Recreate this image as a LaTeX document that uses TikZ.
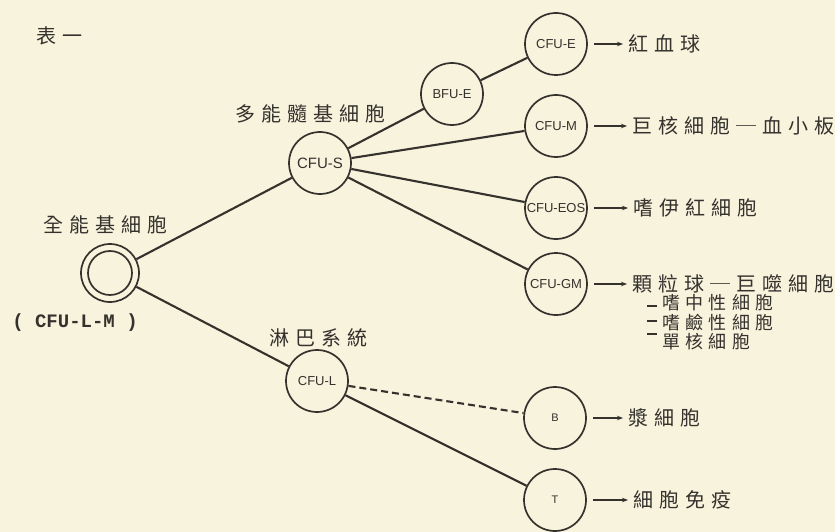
\documentclass[tikz,border=0pt]{standalone}
\usepackage{fontspec}
\usetikzlibrary{arrows.meta}
\newfontfamily\cjk[LetterSpace=30]{Noto Sans CJK TC}
\newfontfamily\cfufont{Liberation Sans}
\newfontfamily\codefont{Liberation Mono}
\definecolor{paper}{HTML}{F7F3DD}
\definecolor{ink}{HTML}{35322E}
\begin{document}
\begin{tikzpicture}[x=1pt,y=-1pt,
  cell/.style={circle,draw=ink,line width=1.7pt,minimum size=62pt,inner sep=0pt,text=ink,font=\cfufont\fontsize{13}{13}\selectfont},
  lab/.style={text=ink,font=\cjk\fontsize{20}{20}\selectfont,inner sep=0pt},
  sublab/.style={text=ink,font=\cjk\fontsize{18}{18}\selectfont,inner sep=0pt,anchor=west},
  edge/.style={draw=ink,line width=2.1pt},
  arr/.style={draw=ink,line width=1.2pt,-{Stealth[length=6pt,width=4.5pt]},shorten <=6pt,shorten >=5pt},
  tick/.style={draw=ink,line width=1.3pt}]
\fill[paper] (0,0) rectangle (835,532);
\useasboundingbox (0,0) rectangle (835,532);
% titles and group labels
\node[lab] (title) at (59,36) {表一};
\node[lab] (lmlab) at (105,225) {全能基細胞};
\node[lab] (slab) at (310,114) {多能髓基細胞};
\node[lab] (llab) at (318,338) {淋巴系統};
% stem cell (double circle)
\node[cell,minimum size=58pt] (lm) at (110,273) {};
\node[circle,draw=ink,line width=1.7pt,minimum size=44pt,inner sep=0pt] (lmin) at (110,273) {};
\node[text=ink,inner sep=0pt,font=\codefont\bfseries\fontsize{19}{19}\selectfont] (lmcode) at (75,323) {( CFU-L-M )};
% cells
\node[cell,font=\cfufont\fontsize{15}{15}\selectfont] (s) at (320,163) {CFU-S};
\node[cell] (bfue) at (452,94) {BFU-E};
\node[cell] (e) at (556,44) {CFU-E};
\node[cell] (m) at (556,126) {CFU-M};
\node[cell] (eos) at (556,208) {CFU-EOS};
\node[cell] (gm) at (556,284) {CFU-GM};
\node[cell] (l) at (317,381) {CFU-L};
\node[cell,font=\cfufont\fontsize{11}{11}\selectfont] (b) at (555,418) {B};
\node[cell,font=\cfufont\fontsize{11}{11}\selectfont] (t) at (555,500) {T};
% right labels
\node[lab,anchor=west] (le) at (628,44) {紅血球};
\node[lab,anchor=west] (lm2) at (632,126) {巨核細胞─血小板};
\node[lab,anchor=west] (leos) at (633,208) {嗜伊紅細胞};
\node[lab,anchor=west] (lgm) at (632,284) {顆粒球─巨噬細胞};
\node[sublab] (g1) at (662,303) {嗜中性細胞};
\node[sublab] (g2) at (662,323) {嗜鹼性細胞};
\node[sublab] (g3) at (662,342) {單核細胞};
\node[lab,anchor=west] (lb) at (628,418) {漿細胞};
\node[lab,anchor=west] (lt) at (633,500) {細胞免疫};
% tree ticks
\draw[tick] (647,306) -- (657,306);
\draw[tick] (647,321) -- (657,321);
\draw[tick] (647,334) -- (657,334);
% connectors
\draw[edge] (lm) -- (s);
\draw[edge] (lm) -- (l);
\draw[edge] (s) -- (bfue);
\draw[edge] (bfue) -- (e);
\draw[edge] (s) -- (m);
\draw[edge] (s) -- (eos);
\draw[edge] (s) -- (gm);
\draw[edge,dash pattern=on 7pt off 4pt] (l) -- (b);
\draw[edge] (l) -- (t);
% arrows
\draw[arr] (e) -- (le);
\draw[arr] (m) -- (lm2);
\draw[arr] (eos) -- (leos);
\draw[arr] (gm) -- (lgm);
\draw[arr] (b) -- (lb);
\draw[arr] (t) -- (lt);
\end{tikzpicture}
\end{document}
